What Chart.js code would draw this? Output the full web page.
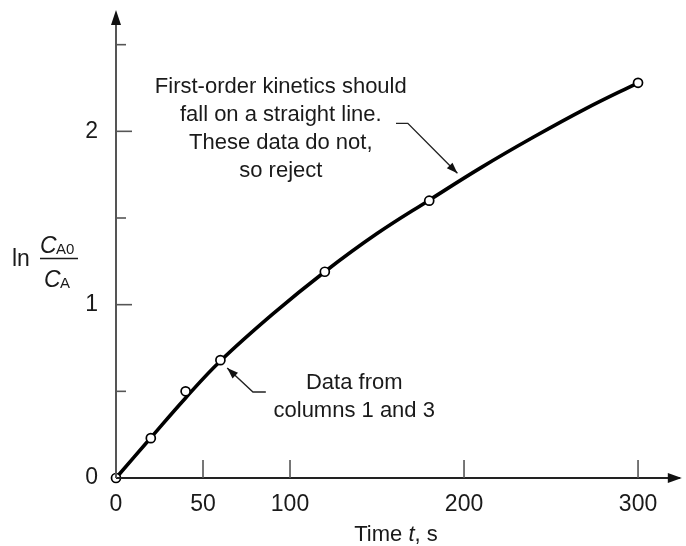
<!DOCTYPE html>
<html>
<head>
<meta charset="utf-8">
<script src="https://cdn.jsdelivr.net/npm/chart.js@4.4.1/dist/chart.umd.min.js"></script>
<style>
  html, body { margin: 0; padding: 0; background: #fff; }
  #wrap { width: 686px; height: 546px; position: relative; }
</style>
</head>
<body>
<div id="wrap"><canvas id="c" width="686" height="546"></canvas></div>
<script>
// ---- data ----
const times = [0, 20, 40, 60, 120, 180, 300];                 // measured t, s
const lnRatio = [0, 0.23, 0.50, 0.68, 1.19, 1.60, 2.28];      // ln(CA0/CA) at the circles
// smooth hand-drawn curve at these times
const curveT = [0, 20, 40, 60, 90, 120, 150, 180, 210, 240, 270, 300];
const curveY = [0, 0.232, 0.462, 0.675, 0.945, 1.19, 1.41, 1.603, 1.792, 1.967, 2.131, 2.28];
const xTickLabels = [0, 50, 100, 200, 300];
const yTickLabels = [0, 1, 2];
const yMinorTicks = [0.5, 1.5, 2.5];
const note1Lines = ['First-order kinetics should', 'fall on a straight line.', 'These data do not,', 'so reject'];
const note2Lines = ['Data from', 'columns 1 and 3'];

const FONT = '"Liberation Sans", Arial, sans-serif';
const INK = '#1a1a1a';

const overlay = {
  id: 'overlay',
  afterDraw(chart) {
    const ctx = chart.ctx;
    const xs = chart.scales.x, ys = chart.scales.y;
    const a = chart.chartArea;
    const X = v => xs.getPixelForValue(v);
    const Y = v => ys.getPixelForValue(v);
    ctx.save();
    // axes
    ctx.strokeStyle = '#222';
    ctx.lineWidth = 2;
    ctx.beginPath();
    ctx.moveTo(X(0), Y(0)); ctx.lineTo(a.right, Y(0));
    ctx.stroke();
    ctx.strokeStyle = '#555';
    ctx.beginPath();
    ctx.moveTo(X(0), Y(0)); ctx.lineTo(X(0), a.top + 4);
    ctx.stroke();
    ctx.fillStyle = '#111';
    // x arrow
    ctx.beginPath();
    ctx.moveTo(a.right + 2, Y(0));
    ctx.lineTo(a.right - 12, Y(0) - 5);
    ctx.lineTo(a.right - 12, Y(0) + 5);
    ctx.closePath(); ctx.fill();
    // y arrow
    ctx.beginPath();
    ctx.moveTo(X(0), a.top);
    ctx.lineTo(X(0) - 5, a.top + 15);
    ctx.lineTo(X(0) + 5, a.top + 15);
    ctx.closePath(); ctx.fill();

    // inward ticks
    ctx.strokeStyle = '#555';
    ctx.lineWidth = 1.6;
    xTickLabels.forEach(v => {
      if (v === 0) return;
      ctx.beginPath(); ctx.moveTo(X(v), Y(0)); ctx.lineTo(X(v), Y(0) - 18); ctx.stroke();
    });
    yTickLabels.forEach(v => {
      if (v === 0) return;
      ctx.beginPath(); ctx.moveTo(X(0), Y(v)); ctx.lineTo(X(0) + 16, Y(v)); ctx.stroke();
    });
    yMinorTicks.forEach(v => {
      ctx.beginPath(); ctx.moveTo(X(0), Y(v)); ctx.lineTo(X(0) + 10, Y(v)); ctx.stroke();
    });

    // y title: ln CA0/CA
    ctx.fillStyle = INK;
    ctx.textBaseline = 'alphabetic';
    ctx.textAlign = 'left';
    ctx.font = '23px ' + FONT;
    ctx.fillText('ln', 12, 266);
    ctx.font = 'italic 23px ' + FONT;
    ctx.fillText('C', 40, 253);
    ctx.font = '15px ' + FONT;
    ctx.fillText('A0', 56, 254);
    ctx.strokeStyle = INK; ctx.lineWidth = 1.3;
    ctx.beginPath(); ctx.moveTo(40, 258.5); ctx.lineTo(78, 258.5); ctx.stroke();
    ctx.font = 'italic 23px ' + FONT;
    ctx.fillText('C', 44, 287);
    ctx.font = '15px ' + FONT;
    ctx.fillText('A', 60, 288);

    // x title: Time t, s
    const p1 = 'Time ', p2 = 't', p3 = ', s';
    ctx.font = '22px ' + FONT; const w1 = ctx.measureText(p1).width, w3 = ctx.measureText(p3).width;
    ctx.font = 'italic 22px ' + FONT; const w2 = ctx.measureText(p2).width;
    let sx = 396 - (w1 + w2 + w3) / 2;
    ctx.font = '22px ' + FONT; ctx.fillText(p1, sx, 541);
    ctx.font = 'italic 22px ' + FONT; ctx.fillText(p2, sx + w1, 541);
    ctx.font = '22px ' + FONT; ctx.fillText(p3, sx + w1 + w2, 541);

    // annotations
    ctx.textAlign = 'center';
    ctx.font = '22px ' + FONT;
    note1Lines.forEach((t, i) => ctx.fillText(t, X(94.7), Y(2.265) + 8 + i * 28));
    note2Lines.forEach((t, i) => ctx.fillText(t, X(136.9), Y(0.559) + 8 + i * 28));

    // arrows
    function arrow(pts) {
      ctx.strokeStyle = '#222'; ctx.lineWidth = 1.4;
      ctx.beginPath();
      ctx.moveTo(X(pts[0][0]), Y(pts[0][1]));
      for (let i = 1; i < pts.length; i++) ctx.lineTo(X(pts[i][0]), Y(pts[i][1]));
      ctx.stroke();
      const n = pts.length;
      const tx = X(pts[n-1][0]), ty = Y(pts[n-1][1]);
      const fx = X(pts[n-2][0]), fy = Y(pts[n-2][1]);
      const ang = Math.atan2(ty - fy, tx - fx);
      const L = 11, W = 4;
      ctx.fillStyle = '#111';
      ctx.beginPath();
      ctx.moveTo(tx, ty);
      ctx.lineTo(tx - L * Math.cos(ang) + W * Math.sin(ang), ty - L * Math.sin(ang) - W * Math.cos(ang));
      ctx.lineTo(tx - L * Math.cos(ang) - W * Math.sin(ang), ty - L * Math.sin(ang) + W * Math.cos(ang));
      ctx.closePath(); ctx.fill();
    }
    arrow([[160.9, 2.046], [167.7, 2.046], [196.2, 1.758]]);
    arrow([[86.1, 0.496], [78.7, 0.496], [63.9, 0.634]]);
    ctx.restore();
  }
};

function zeroPad(s) { s.paddingTop = 0; s.paddingBottom = 0; s.paddingLeft = 0; s.paddingRight = 0; }

new Chart(document.getElementById('c'), {
  type: 'scatter',
  data: {
    datasets: [{
      type: 'line',
      data: curveT.map((t, i) => ({ x: t, y: curveY[i] })),
      borderColor: '#000',
      borderWidth: 3.6,
      tension: 0.4,
      pointRadius: 0,
      fill: false,
      clip: false,
      order: 2
    }, {
      type: 'scatter',
      data: times.map((t, i) => ({ x: t, y: lnRatio[i] })),
      showLine: false,
      pointRadius: 4.5,
      pointBorderWidth: 1.7,
      pointBorderColor: '#000',
      pointBackgroundColor: '#fff',
      clip: false,
      order: 1
    }]
  },
  options: {
    responsive: false,
    animation: false,
    events: [],
    layout: { padding: { top: 10, right: 2, left: 0, bottom: 0 } },
    plugins: { legend: { display: false }, tooltip: { enabled: false } },
    scales: {
      x: {
        type: 'linear', min: 0, max: 324,
        grid: { display: false },
        border: { display: false },
        ticks: {
          stepSize: 50, includeBounds: false, autoSkip: false, maxRotation: 0, padding: 5,
          color: INK, font: { family: FONT, size: 23 },
          callback: v => xTickLabels.includes(v) ? String(v) : ''
        },
        afterFit: s => { s.height = 68; zeroPad(s); }
      },
      y: {
        type: 'linear', min: 0, max: 2.7,
        grid: { display: false },
        border: { display: false },
        ticks: {
          stepSize: 0.5, includeBounds: false, autoSkip: false, padding: 10,
          color: INK, font: { family: FONT, size: 23 },
          callback: v => yTickLabels.includes(v) ? String(v) : ''
        },
        afterFit: s => { s.width = 116; zeroPad(s); }
      }
    }
  },
  plugins: [overlay]
});
</script>
</body>
</html>
